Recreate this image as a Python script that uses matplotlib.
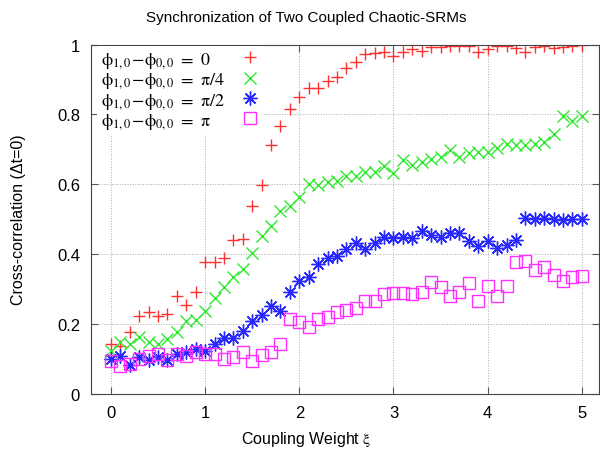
import numpy as np
import matplotlib.pyplot as plt
from matplotlib.offsetbox import DrawingArea

plt.rcParams['font.family'] = ['Liberation Sans', 'DejaVu Sans']
plt.rcParams['mathtext.fontset'] = 'stix'

# coupling weight xi, 0.0 .. 5.0 in steps of 0.1
xi = np.round(np.arange(51) * 0.1, 1)

# phase difference 0
corr_0 = [0.142, 0.135, 0.176, 0.222, 0.235, 0.223, 0.228, 0.281, 0.254, 0.290,
          0.376, 0.376, 0.388, 0.440, 0.443, 0.539, 0.599, 0.713, 0.766, 0.816,
          0.849, 0.875, 0.875, 0.897, 0.906, 0.932, 0.951, 0.973, 0.976, 0.980,
          0.968, 0.980, 0.988, 0.983, 0.992, 0.992, 0.995, 0.997, 0.995, 0.980,
          0.988, 0.997, 0.997, 0.990, 0.980, 0.992, 0.997, 0.990, 0.992, 0.995,
          0.999]
# phase difference pi/4
corr_pi4 = [0.123, 0.147, 0.142, 0.161, 0.147, 0.142, 0.157, 0.176, 0.209, 0.212,
            0.238, 0.273, 0.305, 0.333, 0.357, 0.402, 0.453, 0.481, 0.524, 0.539,
            0.563, 0.601, 0.598, 0.606, 0.610, 0.625, 0.625, 0.634, 0.636, 0.651,
            0.632, 0.670, 0.655, 0.663, 0.672, 0.677, 0.699, 0.677, 0.690, 0.691,
            0.691, 0.703, 0.715, 0.711, 0.712, 0.715, 0.722, 0.744, 0.795, 0.782,
            0.795]
# phase difference pi/2
corr_pi2 = [0.099, 0.109, 0.082, 0.104, 0.095, 0.104, 0.095, 0.114, 0.120, 0.128,
            0.123, 0.142, 0.159, 0.159, 0.178, 0.209, 0.225, 0.250, 0.238, 0.290,
            0.324, 0.333, 0.372, 0.388, 0.393, 0.415, 0.432, 0.415, 0.432, 0.448,
            0.445, 0.448, 0.445, 0.467, 0.455, 0.448, 0.460, 0.460, 0.438, 0.424,
            0.438, 0.416, 0.426, 0.441, 0.502, 0.500, 0.504, 0.500, 0.498, 0.500,
            0.500]
# phase difference pi
corr_pi = [0.092, 0.080, 0.085, 0.099, 0.109, 0.114, 0.095, 0.114, 0.109, 0.118,
           0.114, 0.114, 0.099, 0.104, 0.118, 0.092, 0.111, 0.118, 0.142, 0.214,
           0.206, 0.190, 0.214, 0.219, 0.235, 0.241, 0.245, 0.264, 0.266, 0.286,
           0.288, 0.288, 0.286, 0.290, 0.319, 0.305, 0.281, 0.290, 0.317, 0.264,
           0.309, 0.281, 0.309, 0.376, 0.381, 0.355, 0.364, 0.340, 0.324, 0.333,
           0.336]

labels = [r'$\mathrm{\phi_{1,0}\!-\!\phi_{0,0}}\ =\ 0$',
          r'$\mathrm{\phi_{1,0}\!-\!\phi_{0,0}}\ =\ \mathrm{\pi}/4$',
          r'$\mathrm{\phi_{1,0}\!-\!\phi_{0,0}}\ =\ \mathrm{\pi}/2$',
          r'$\mathrm{\phi_{1,0}\!-\!\phi_{0,0}}\ =\ \mathrm{\pi}$']

fig = plt.figure(figsize=(6, 4.52), dpi=100)
ax = fig.add_axes([0.152, 0.127, 0.846, 0.772])

ax.plot(xi, corr_0, ls='none', marker='+', ms=9, mew=1.0, color='#ff3030', label=labels[0])
ax.plot(xi, corr_pi4, ls='none', marker='x', ms=8, mew=1.0, color='#30e830', label=labels[1])
ax.plot(xi, corr_pi2, ls='none', marker=(8, 2, 0), ms=10, mew=1.0, color='#2828ff', label=labels[2])
ax.plot(xi, corr_pi, ls='none', marker='s', ms=8, mew=1.0, mfc='none', color='#ff30ff', label=labels[3])

ax.set_xlim(-0.21, 5.18)
ax.set_ylim(0, 1)
ax.set_xticks(range(6))
ax.set_yticks([0, 0.2, 0.4, 0.6, 0.8, 1])
ax.set_yticklabels(['0', '0.2', '0.4', '0.6', '0.8', '1'])
ax.tick_params(direction='in', top=True, right=True, length=5, pad=8,
               labelsize=12, color='#555555')
ax.grid(True, ls=':', lw=0.7, color='#aaaaaa')
for sp in ax.spines.values():
    sp.set_color('#444444')

fig.text(0.51, 1 - 18 / 452, 'Synchronization of Two Coupled Chaotic-SRMs',
         fontsize=11, ha='center', va='center')
fig.text(0.51, 1 - 440 / 452, r'Coupling Weight $\mathrm{\xi}$',
         fontsize=11.5, ha='center', va='center')
ax.set_ylabel('Cross-correlation (Δt=0)', fontsize=11.5)
ax.yaxis.set_label_coords(-0.128, 0.5)

leg = ax.legend(loc='upper left', markerfirst=False, fontsize=13, frameon=True,
                handletextpad=0.44, labelspacing=0.02, borderpad=0.2,
                borderaxespad=0, bbox_to_anchor=(0.012, 0.995), handlelength=1.0)
leg.get_frame().set_facecolor('white')
leg.get_frame().set_edgecolor('none')
leg.get_frame().set_alpha(1.0)

# gnuplot-style key: labels left aligned, samples in one column on the right
fig.canvas.draw()
r = fig.canvas.get_renderer()
col = leg._legend_handle_box.get_children()[0]
col.align = 'left'
items = col.get_children()
tw = [it.get_children()[0].get_bbox(r).width for it in items]
wmax = max(tw)
for it, w in zip(items, tw):
    kids = it.get_children()
    spacer = DrawingArea((wmax - w) * 72 / fig.dpi, 0)
    spacer.set_figure(fig)
    it._children = [kids[0], spacer, kids[1]]

fig.savefig('out.png', dpi=100)
